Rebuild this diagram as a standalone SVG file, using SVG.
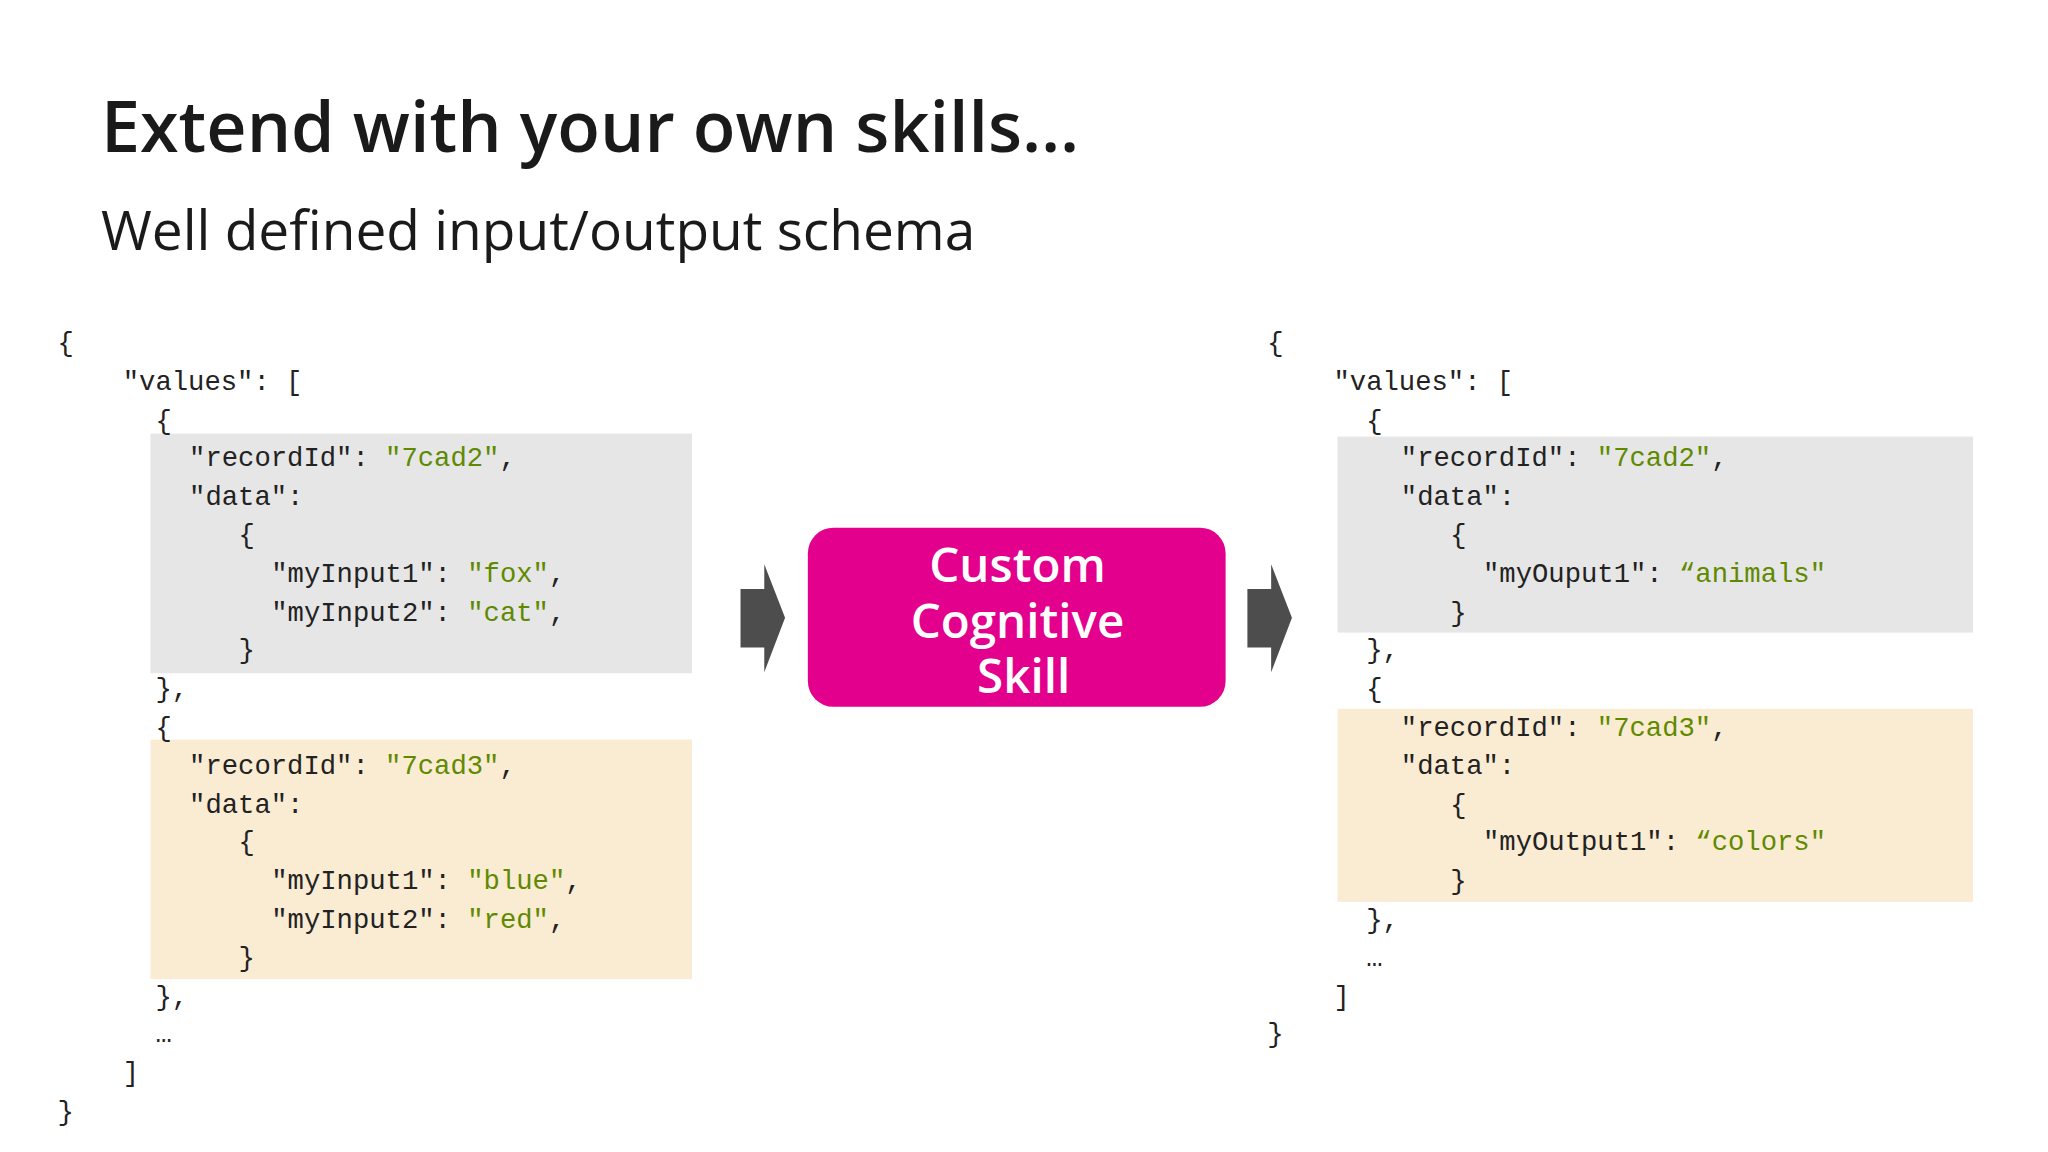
<svg xmlns="http://www.w3.org/2000/svg" width="2048" height="1152" viewBox="0 0 2048 1152">
<style>
.c{font-family:"Liberation Mono","DejaVu Sans Mono",monospace;font-size:27.5px;fill:#222}
.s{fill:#5f8a00}
.t{font-family:"Open Sans","Noto Sans",sans-serif;fill:#1a1a1a}
.arr{fill:#4d4d4d}
</style>
<rect width="2048" height="1152" fill="#fff"/>
<text class="t" x="101" y="152" font-size="70" font-weight="600">Extend with your own skills…</text>
<text class="t" x="101" y="250" font-size="55">Well defined input/output schema</text>
<g transform="translate(0,-1) scale(0.99)">
<g id="inputJson">
<rect x="152" y="439" width="547" height="242" fill="#e6e6e6"/>
<rect x="152" y="748" width="547" height="242" fill="#faebd3"/>
<text class="c">
<tspan x="58" y="356">{</tspan>
<tspan x="124" y="395">"values": [</tspan>
<tspan x="157" y="434">{</tspan>
<tspan x="191" y="472">"recordId": <tspan class="s">"7cad2"</tspan>,</tspan>
<tspan x="191" y="511">"data":</tspan>
<tspan x="241" y="550">{</tspan>
<tspan x="274" y="589">"myInput1": <tspan class="s">"fox"</tspan>,</tspan>
<tspan x="274" y="628">"myInput2": <tspan class="s">"cat"</tspan>,</tspan>
<tspan x="241" y="666">}</tspan>
<tspan x="157" y="705">},</tspan>
<tspan x="157" y="744">{</tspan>
<tspan x="191" y="783">"recordId": <tspan class="s">"7cad3"</tspan>,</tspan>
<tspan x="191" y="822">"data":</tspan>
<tspan x="241" y="860">{</tspan>
<tspan x="274" y="899">"myInput1": <tspan class="s">"blue"</tspan>,</tspan>
<tspan x="274" y="938">"myInput2": <tspan class="s">"red"</tspan>,</tspan>
<tspan x="241" y="977">}</tspan>
<tspan x="157" y="1016">},</tspan>
<tspan x="157" y="1054">…</tspan>
<tspan x="124" y="1093">]</tspan>
<tspan x="58" y="1132">}</tspan>
</text>
</g>
<g id="skill">
<rect x="816" y="534" width="422" height="181" rx="26" fill="#e3008c"/>
<text font-family="Open Sans,Noto Sans,sans-serif" font-size="48" font-weight="600" fill="#fff" text-anchor="middle">
<tspan x="1034" y="589">Custom</tspan>
<tspan x="1034" y="645">Cognitive</tspan>
<tspan x="1034" y="701">Skill</tspan>
</text>
</g>
<g id="outputJson">
<rect x="1351" y="442" width="642" height="198" fill="#e6e6e6"/>
<rect x="1351" y="717" width="642" height="195" fill="#faebd3"/>
<text class="c">
<tspan x="1280" y="356">{</tspan>
<tspan x="1347" y="395">"values": [</tspan>
<tspan x="1380" y="434">{</tspan>
<tspan x="1415" y="472">"recordId": <tspan class="s">"7cad2"</tspan>,</tspan>
<tspan x="1415" y="511">"data":</tspan>
<tspan x="1465" y="550">{</tspan>
<tspan x="1498" y="589">"myOuput1": <tspan class="s">“animals"</tspan></tspan>
<tspan x="1465" y="628">}</tspan>
<tspan x="1380" y="666">},</tspan>
<tspan x="1380" y="705">{</tspan>
<tspan x="1415" y="744">"recordId": <tspan class="s">"7cad3"</tspan>,</tspan>
<tspan x="1415" y="783">"data":</tspan>
<tspan x="1465" y="822">{</tspan>
<tspan x="1498" y="860">"myOutput1": <tspan class="s">“colors"</tspan></tspan>
<tspan x="1465" y="899">}</tspan>
<tspan x="1380" y="938">},</tspan>
<tspan x="1380" y="977">…</tspan>
<tspan x="1347" y="1016">]</tspan>
<tspan x="1280" y="1054">}</tspan>
</text>
</g>
<g id="connectors">
<polygon class="arr" points="748,596 772,596 772,571 793,625 772,680 772,655 748,655"/>
<polygon class="arr" points="1260,596 1284,596 1284,571 1305,625 1284,680 1284,655 1260,655"/>
</g>
</g>
</svg>
